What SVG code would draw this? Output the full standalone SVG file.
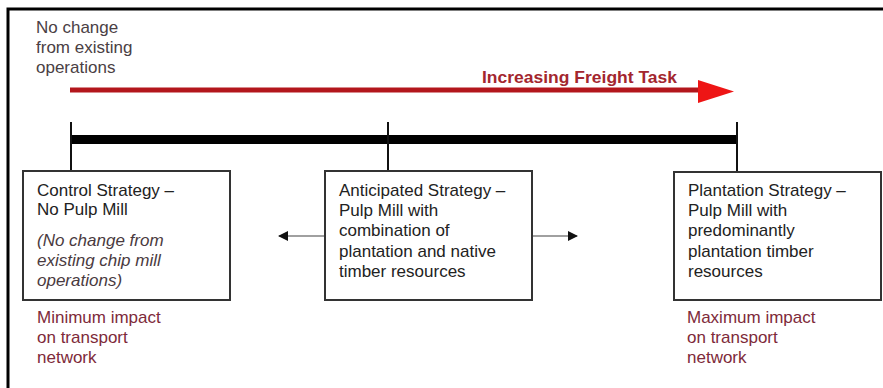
<svg xmlns="http://www.w3.org/2000/svg" width="883" height="388" viewBox="0 0 883 388">
<style>
  text { font-family: "Liberation Sans", Arial, sans-serif; font-size: 17px; }
  .t { fill: #222; }
  .note { fill: #4a4044; }
  .imp { fill: #7e2a3a; }
  .it { font-style: italic; fill: #4a3a40; }
  .title { font-weight: bold; fill: #a3262e; }
  .box { fill: #fff; stroke: #333; stroke-width: 2; }
  .tick { stroke: #111; stroke-width: 2; }
  .side { stroke: #a0a0a0; stroke-width: 2; }
</style>
<defs>
  <marker id="ah" markerWidth="10" markerHeight="10" refX="9" refY="5" orient="auto" markerUnits="userSpaceOnUse">
    <path d="M0,0 L10,5 L0,10 z" fill="#111"/>
  </marker>
</defs>
<rect x="0" y="0" width="883" height="388" fill="#fff"/>
<path d="M8,400 L8,9 L890,9" fill="none" stroke="#000" stroke-width="3"/>

<g id="top-label">
  <text class="note" x="36" y="33">No change</text>
  <text class="note" x="36" y="53">from existing</text>
  <text class="note" x="36" y="73">operations</text>
</g>

<g id="freight-arrow">
  <line x1="70" y1="90" x2="700" y2="90" stroke="#b3161c" stroke-width="5"/>
  <path d="M698,80 L734,91.5 L698,103 z" fill="#ee1515"/>
  <text class="title" x="482" y="83" textLength="195" lengthAdjust="spacingAndGlyphs">Increasing Freight Task</text>
</g>

<g id="connectors">
  <rect x="71" y="135" width="666" height="9" fill="#000"/>
  <line class="tick" x1="71" y1="122" x2="71" y2="172"/>
  <line class="tick" x1="388" y1="122" x2="388" y2="172"/>
  <line class="tick" x1="737" y1="122" x2="737" y2="172"/>
  <line class="side" x1="325" y1="236" x2="279" y2="236" marker-end="url(#ah)"/>
  <line class="side" x1="532" y1="236" x2="577" y2="236" marker-end="url(#ah)"/>
</g>

<g id="control">
  <rect class="box" x="23" y="171" width="207" height="129"/>
  <text class="t" x="37" y="196">Control Strategy –</text>
  <text class="t" x="37" y="215">No Pulp Mill</text>
  <text class="it" x="37" y="246">(No change from</text>
  <text class="it" x="37" y="266">existing chip mill</text>
  <text class="it" x="37" y="286">operations)</text>
</g>

<g id="anticipated">
  <rect class="box" x="325" y="171" width="207" height="129"/>
  <text class="t" x="339" y="196">Anticipated Strategy –</text>
  <text class="t" x="339" y="216">Pulp Mill with</text>
  <text class="t" x="339" y="236">combination of</text>
  <text class="t" x="339" y="257">plantation and native</text>
  <text class="t" x="339" y="277">timber resources</text>
</g>

<g id="plantation">
  <rect class="box" x="674" y="172" width="207" height="128"/>
  <text class="t" x="688" y="196">Plantation Strategy –</text>
  <text class="t" x="688" y="216">Pulp Mill with</text>
  <text class="t" x="688" y="236">predominantly</text>
  <text class="t" x="688" y="257">plantation timber</text>
  <text class="t" x="688" y="277">resources</text>
</g>

<g id="min-impact">
  <text class="imp" x="37" y="323">Minimum impact</text>
  <text class="imp" x="37" y="343">on transport</text>
  <text class="imp" x="37" y="363">network</text>
</g>

<g id="max-impact">
  <text class="imp" x="687" y="323">Maximum impact</text>
  <text class="imp" x="687" y="343">on transport</text>
  <text class="imp" x="687" y="363">network</text>
</g>
</svg>
